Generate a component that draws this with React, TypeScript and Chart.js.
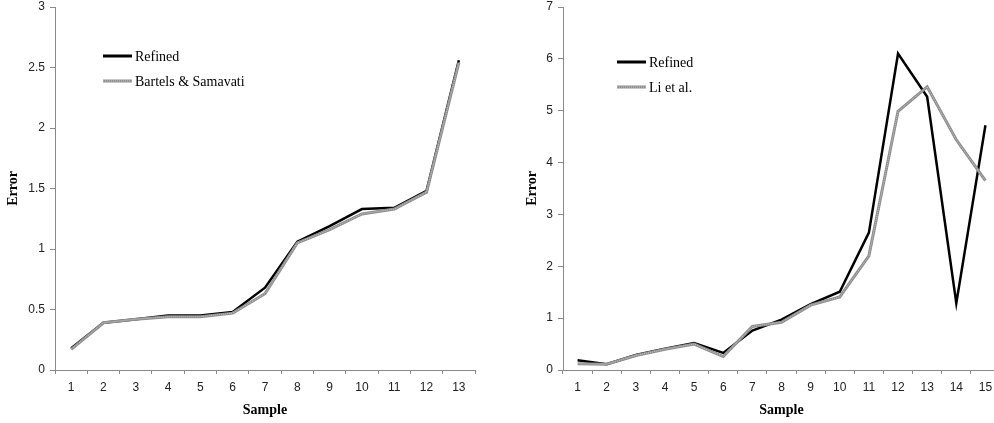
import React, { useEffect, useRef } from "react";
import { Chart, registerables } from "chart.js";

Chart.register(...registerables);

// ---- Data ----
const leftSamples = ["1", "2", "3", "4", "5", "6", "7", "8", "9", "10", "11", "12", "13"];
const leftRefined = [0.18, 0.39, 0.42, 0.45, 0.45, 0.48, 0.68, 1.06, 1.19, 1.33, 1.34, 1.48, 2.56];
const leftBartels = [0.17, 0.39, 0.42, 0.44, 0.44, 0.47, 0.63, 1.05, 1.16, 1.29, 1.33, 1.47, 2.54];

const rightSamples = ["1", "2", "3", "4", "5", "6", "7", "8", "9", "10", "11", "12", "13", "14", "15"];
const rightRefined = [0.19, 0.11, 0.29, 0.41, 0.52, 0.33, 0.76, 0.97, 1.27, 1.51, 2.65, 6.1, 5.27, 1.29, 4.72];
const rightLi = [0.12, 0.11, 0.28, 0.4, 0.5, 0.26, 0.84, 0.92, 1.25, 1.41, 2.2, 4.99, 5.46, 4.44, 3.65];

const leftSeriesNames = ["Refined", "Bartels & Samavati"];
const rightSeriesNames = ["Refined", "Li et al."];

const AXIS_GRAY = "#8a8a8a";
const LINE_GRAY = "#8e8e8e";
const TICK_COLOR = "#222";

type PanelProps = {
  labels: string[];
  refined: number[];
  other: number[];
  names: string[];
  yMax: number;
  yStep: number;
  canvasWidth: number;
  canvasLeft: number;
  yAxisWidth: number;
  rightPad: number;
  titlePadLeft: number;
  legendX: number;
  legendY: number;
};

function makeLegendPlugin(x: number, y: number, names: string[]) {
  return {
    id: "customLegend",
    afterDraw(chart: any) {
      const ctx = chart.ctx;
      ctx.save();
      names.forEach((name, i) => {
        const yy = y + i * 25;
        if (i === 0) {
          ctx.strokeStyle = "#000";
          ctx.lineWidth = 3;
          ctx.setLineDash([]);
          ctx.beginPath();
          ctx.moveTo(x, yy);
          ctx.lineTo(x + 29, yy);
          ctx.stroke();
        } else {
          ctx.strokeStyle = LINE_GRAY;
          ctx.lineWidth = 3;
          ctx.setLineDash([]);
          ctx.beginPath();
          ctx.moveTo(x, yy);
          ctx.lineTo(x + 29, yy);
          ctx.stroke();
          ctx.strokeStyle = "rgba(255,255,255,0.5)";
          ctx.lineWidth = 1;
          ctx.setLineDash([1, 1]);
          ctx.beginPath();
          ctx.moveTo(x, yy);
          ctx.lineTo(x + 29, yy);
          ctx.stroke();
          ctx.setLineDash([]);
        }
        ctx.fillStyle = "#000";
        ctx.font = "14px 'Liberation Serif', serif";
        ctx.textAlign = "left";
        ctx.textBaseline = "middle";
        ctx.fillText(name, x + 32, yy + 1);
      });
      ctx.restore();
    },
  };
}

function Panel(p: PanelProps) {
  const ref = useRef<HTMLCanvasElement | null>(null);
  useEffect(() => {
    if (!ref.current) return;
    const chart = new Chart(ref.current, {
      type: "line",
      data: {
        labels: p.labels,
        datasets: [
          {
            label: p.names[1] + " texture",
            data: p.other,
            borderColor: "rgba(255,255,255,0.5)",
            borderWidth: 1,
            borderDash: [1, 1],
            pointRadius: 0,
            tension: 0,
            fill: false,
          },
          {
            label: p.names[1],
            data: p.other,
            borderColor: LINE_GRAY,
            borderWidth: 3,
            pointRadius: 0,
            tension: 0,
            fill: false,
          },
          {
            label: p.names[0],
            data: p.refined,
            borderColor: "#000",
            borderWidth: 2.5,
            pointRadius: 0,
            tension: 0,
            fill: false,
          },
        ],
      },
      options: {
        responsive: false,
        animation: false,
        layout: { padding: { top: 7, right: p.rightPad, bottom: 0, left: 0 } },
        plugins: {
          legend: { display: false },
          tooltip: { enabled: false },
          title: { display: false },
        },
        scales: {
          x: {
            type: "category",
            offset: true,
            grid: {
              display: true,
              offset: true,
              drawOnChartArea: false,
              drawTicks: true,
              tickLength: 4,
              color: AXIS_GRAY,
            },
            border: { display: true, color: AXIS_GRAY, width: 1 },
            ticks: {
              color: TICK_COLOR,
              font: { family: "'Liberation Sans', Arial, sans-serif", size: 12 },
              padding: 6,
              maxRotation: 0,
              autoSkip: false,
            },
            title: {
              display: true,
              text: "Sample",
              color: "#000",
              font: { family: "'Liberation Serif', serif", size: 14, weight: "bold" },
              padding: { top: 4, bottom: 4 },
            },
            afterFit: (scale: any) => {
              scale.height = 53;
              scale.paddingLeft = 0;
              scale.paddingRight = 0;
            },
          },
          y: {
            min: 0,
            max: p.yMax,
            grid: {
              display: true,
              drawOnChartArea: false,
              drawTicks: true,
              tickLength: 5,
              color: AXIS_GRAY,
            },
            border: { display: true, color: AXIS_GRAY, width: 1 },
            ticks: {
              stepSize: p.yStep,
              color: TICK_COLOR,
              font: { family: "'Liberation Sans', Arial, sans-serif", size: 12 },
              padding: 5,
              callback: (v: any) => String(v),
            },
            title: {
              display: true,
              text: "Error",
              color: "#000",
              font: { family: "'Liberation Serif', serif", size: 14, weight: "bold" },
              padding: { top: p.titlePadLeft, bottom: 0 },
            },
            afterFit: (scale: any) => {
              scale.width = p.yAxisWidth;
              scale.paddingTop = 0;
              scale.paddingBottom = 0;
            },
          },
        },
      },
      plugins: [makeLegendPlugin(p.legendX, p.legendY, p.names)],
    } as any);
    return () => chart.destroy();
  }, []);
  return (
    <canvas
      ref={ref}
      width={p.canvasWidth}
      height={423}
      style={{ position: "absolute", left: p.canvasLeft, top: 0, width: p.canvasWidth, height: 423 }}
    />
  );
}

export default function App() {
  return (
    <div
      style={{
        position: "fixed",
        left: 0,
        top: 0,
        width: 994,
        height: 423,
        overflow: "hidden",
        background: "#fff",
      }}
    >
      <Panel
        labels={leftSamples}
        refined={leftRefined}
        other={leftBartels}
        names={leftSeriesNames}
        yMax={3}
        yStep={0.5}
        canvasWidth={490}
        canvasLeft={0}
        yAxisWidth={55}
        rightPad={15}
        titlePadLeft={5}
        legendX={103}
        legendY={56}
      />
      <Panel
        labels={rightSamples}
        refined={rightRefined}
        other={rightLi}
        names={rightSeriesNames}
        yMax={7}
        yStep={1}
        canvasWidth={510}
        canvasLeft={500}
        yAxisWidth={63}
        rightPad={10}
        titlePadLeft={24}
        legendX={117}
        legendY={62}
      />
    </div>
  );
}
